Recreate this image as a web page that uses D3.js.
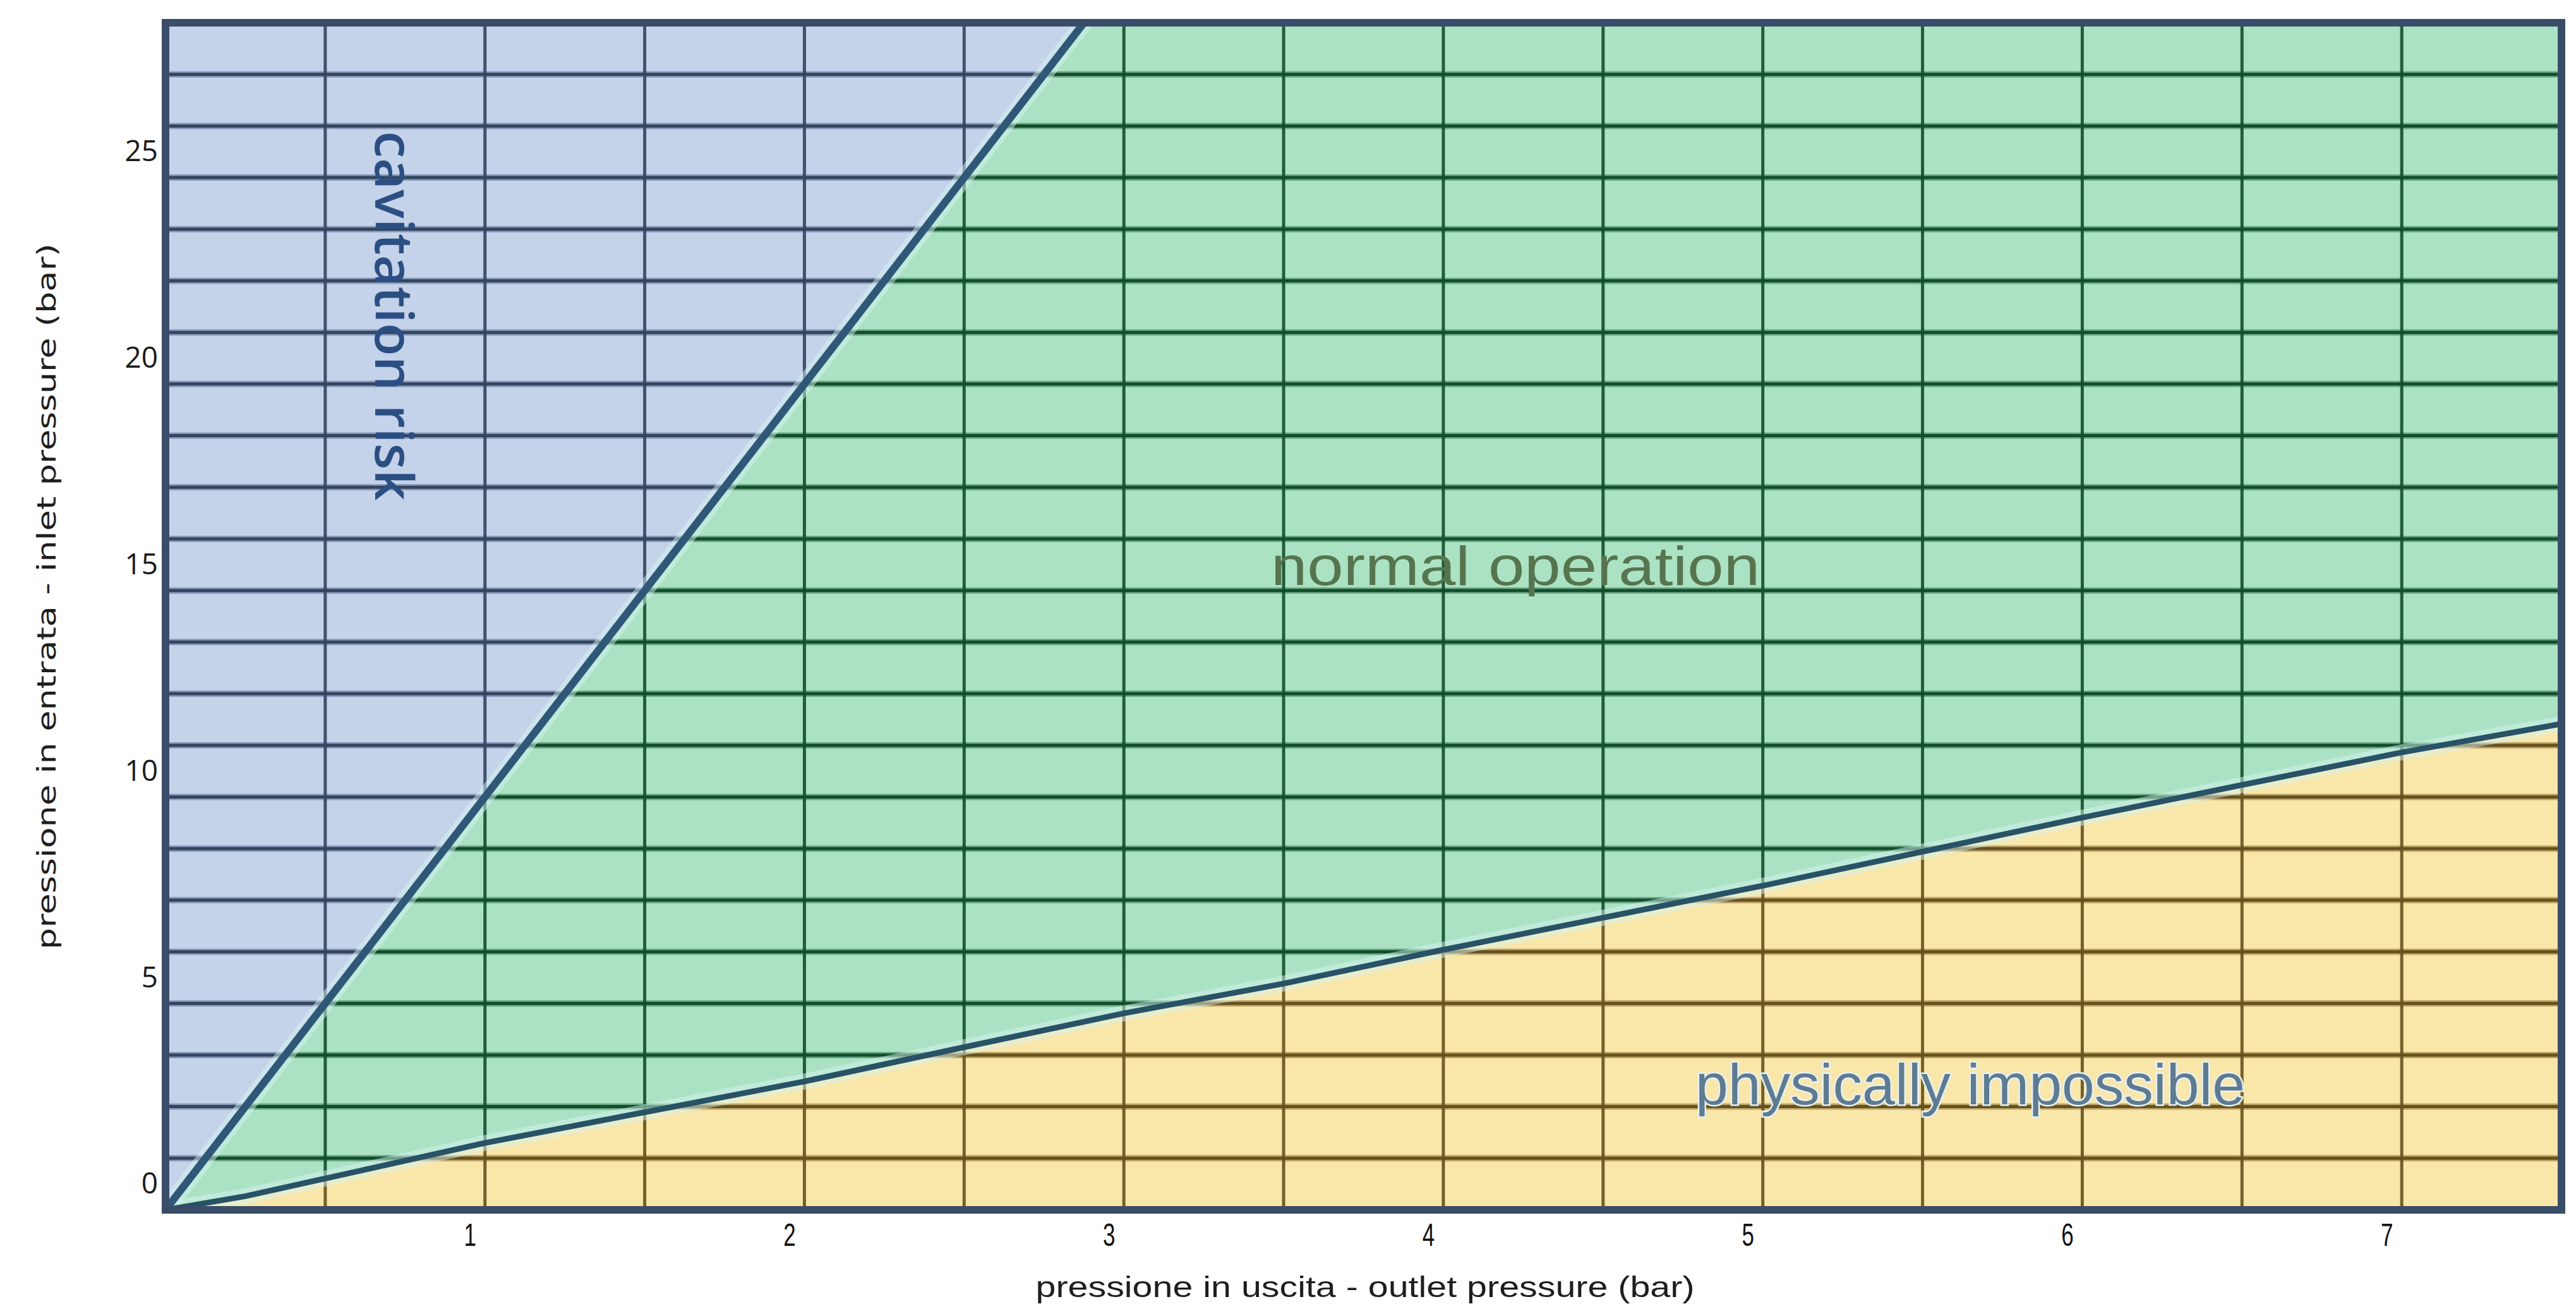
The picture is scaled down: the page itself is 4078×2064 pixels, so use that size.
<!DOCTYPE html>
<html>
<head>
<meta charset="utf-8">
<script src="https://cdn.jsdelivr.net/npm/d3@7"></script>
<style>
  html, body { margin: 0; padding: 0; background: #ffffff; }
  svg { display: block; }
</style>
</head>
<body>
<svg id="chart" width="4078" height="2064"></svg>
<script>
// ---------------- DATA ----------------
const xDomain = [0, 7.5];
const yDomain = [0, 28.75];
const xTickLabels = [1, 2, 3, 4, 5, 6, 7];
const yTickLabels = [0, 5, 10, 15, 20, 25];
const xGridValues = [0.5, 1, 1.5, 2, 2.5, 3, 3.5, 4, 4.5, 5, 5.5, 6, 6.5, 7];
const yGridValues = [1.25, 2.5, 3.75, 5, 6.25, 7.5, 8.75, 10, 11.25, 12.5, 13.75, 15,
                     16.25, 17.5, 18.75, 20, 21.25, 22.5, 23.75, 25, 26.25, 27.5];
// boundary: cavitation risk (inlet vs outlet)
const cavitationLine = [[0, 0], [1, 10], [2, 20], [2.875, 28.75]];
// boundary: physically impossible
const impossibleLine = [[0, 0], [0.25, 0.33], [0.5, 0.76], [1, 1.62], [2, 3.11], [2.5, 3.94],
                        [3, 4.76], [3.5, 5.48], [4, 6.30], [5, 7.85], [6, 9.5], [7, 11.08], [7.5, 11.77]];
const regionNames = ["cavitation risk", "normal operation", "physically impossible"];
const xTitle = "pressione in uscita - outlet pressure (bar)";
const yTitle = "pressione in entrata - inlet pressure (bar)";

// ---------------- LAYOUT ----------------
const plot = { left: 262, right: 4055, top: 36, bottom: 1915 };
const narrow = "'Liberation Sans','Arimo',Arial,sans-serif";

const svg = d3.select("#chart");
const x = d3.scaleLinear().domain(xDomain).range([plot.left, plot.right]);
const y = d3.scaleLinear().domain(yDomain).range([plot.bottom, plot.top]);
const line = d3.line().x(d => x(d[0])).y(d => y(d[1]));

const xMax = xDomain[1], yMax = yDomain[1];

const regions = [
  { name: "cav", fill: "#c4d2ea", grid: "#33455f", halo: "#7b8dac",
    pts: cavitationLine.concat([[0, yMax]]) },
  { name: "norm", fill: "#abe2c4", grid: "#134e2c", halo: "#5c9876",
    pts: cavitationLine.concat([[xMax, yMax]], impossibleLine.slice().reverse()) },
  { name: "imp", fill: "#f9e6a9", grid: "#67511d", halo: "#ae975a",
    pts: impossibleLine.concat([[xMax, 0]]) }
];

const defs = svg.append("defs");
defs.append("clipPath").attr("id", "clip-plot")
  .append("rect").attr("x", plot.left).attr("y", plot.top)
  .attr("width", plot.right - plot.left).attr("height", plot.bottom - plot.top);

regions.forEach(r => {
  defs.append("clipPath").attr("id", "clip-" + r.name)
    .append("path").attr("d", line(r.pts) + "Z");
});

const gPlot = svg.append("g").attr("clip-path", "url(#clip-plot)");

// fills
regions.forEach(r => {
  gPlot.append("path").attr("d", line(r.pts) + "Z").attr("fill", r.fill);
});

// grids per region (coloured per region)
regions.forEach(r => {
  const g = gPlot.append("g").attr("clip-path", "url(#clip-" + r.name + ")");
  g.selectAll("line.hh").data(yGridValues).join("line")
    .attr("x1", plot.left).attr("x2", plot.right)
    .attr("y1", d => y(d)).attr("y2", d => y(d))
    .attr("stroke", r.halo).attr("stroke-width", 10).attr("opacity", 0.8);
  g.selectAll("line.hc").data(yGridValues).join("line")
    .attr("x1", plot.left).attr("x2", plot.right)
    .attr("y1", d => y(d)).attr("y2", d => y(d))
    .attr("stroke", r.grid).attr("stroke-width", 5);
  g.selectAll("line.v").data(xGridValues).join("line")
    .attr("x1", d => x(d)).attr("x2", d => x(d))
    .attr("y1", plot.top).attr("y2", plot.bottom)
    .attr("stroke", r.grid).attr("stroke-width", 5).attr("opacity", 0.9);
});

// boundary lines with light halo
[[cavitationLine, 11], [impossibleLine, 9]].forEach(([pts, w]) => {
  gPlot.append("path").attr("d", line(pts)).attr("fill", "none")
    .attr("stroke", "#d6f4f0").attr("stroke-width", w + 16).attr("opacity", 0.5)
    .attr("stroke-linecap", "round");
});
gPlot.append("path").attr("d", line(cavitationLine)).attr("fill", "none")
  .attr("stroke", "#2f5878").attr("stroke-width", 12).attr("stroke-linecap", "round");
gPlot.append("path").attr("d", line(impossibleLine)).attr("fill", "none")
  .attr("stroke", "#285266").attr("stroke-width", 9).attr("stroke-linecap", "round");

// frame
svg.append("rect")
  .attr("x", plot.left).attr("y", plot.top)
  .attr("width", plot.right - plot.left).attr("height", plot.bottom - plot.top)
  .attr("fill", "none").attr("stroke", "#3a4d68").attr("stroke-width", 12);

// ---------------- AXES ----------------
const xAxis = d3.axisBottom(x).tickValues(xTickLabels).tickSize(0).tickPadding(22)
  .tickFormat(d3.format("d"));
const gx = svg.append("g").attr("transform", `translate(0,${plot.bottom})`).call(xAxis);
gx.select(".domain").remove();
gx.selectAll(".tick text")
  .attr("transform", "translate(-24,0) scale(0.7,1)")
  .attr("font-family", narrow)
  .attr("font-size", 50).attr("fill", "#111");

const rowHalf = y(0) - y(0.625);
const yAxis = d3.axisLeft(y).tickValues(yTickLabels).tickSize(0).tickPadding(12)
  .tickFormat(d3.format("d"));
const gy = svg.append("g").attr("transform", `translate(${plot.left},0)`).call(yAxis);
gy.select(".domain").remove();
gy.selectAll(".tick text")
  .attr("transform", `translate(0,${-rowHalf})`)
  .attr("font-family", "'Open Sans','DejaVu Sans',sans-serif")
  .attr("font-size", 46).attr("fill", "#1a1a1a");

// axis titles
svg.append("text")
  .attr("x", 2161).attr("y", 2053)
  .attr("text-anchor", "middle")
  .attr("font-family", narrow)
  .attr("font-size", 46).attr("fill", "#1e1e1e")
  .attr("textLength", 1043).attr("lengthAdjust", "spacingAndGlyphs")
  .text(xTitle);

svg.append("text")
  .attr("transform", "translate(88,944) rotate(-90)")
  .attr("text-anchor", "middle")
  .attr("font-family", "'DejaVu Sans',sans-serif")
  .attr("font-size", 41).attr("fill", "#1e1e1e")
  .attr("textLength", 1118).attr("lengthAdjust", "spacingAndGlyphs")
  .text(yTitle);

// region labels
svg.append("text")
  .attr("transform", "translate(594,500) rotate(90)")
  .attr("text-anchor", "middle")
  .attr("font-family", "'Open Sans','DejaVu Sans',sans-serif")
  .attr("font-weight", 600)
  .attr("font-size", 84).attr("fill", "#2b4f82")
  .attr("textLength", 585).attr("lengthAdjust", "spacingAndGlyphs")
  .text(regionNames[0]);

svg.append("text")
  .attr("x", 2399).attr("y", 926)
  .attr("text-anchor", "middle")
  .attr("font-family", narrow)
  .attr("font-size", 88).attr("fill", "#56754f")
  .attr("textLength", 774).attr("lengthAdjust", "spacingAndGlyphs")
  .text(regionNames[1]);

svg.append("text")
  .attr("x", 3119).attr("y", 1748)
  .attr("text-anchor", "middle")
  .attr("font-family", narrow)
  .attr("font-size", 90).attr("fill", "#5e7b90")
  .attr("stroke", "#e6f0f4").attr("stroke-width", 5).attr("paint-order", "stroke")
  .attr("textLength", 870).attr("lengthAdjust", "spacingAndGlyphs")
  .text(regionNames[2]);
</script>
</body>
</html>
